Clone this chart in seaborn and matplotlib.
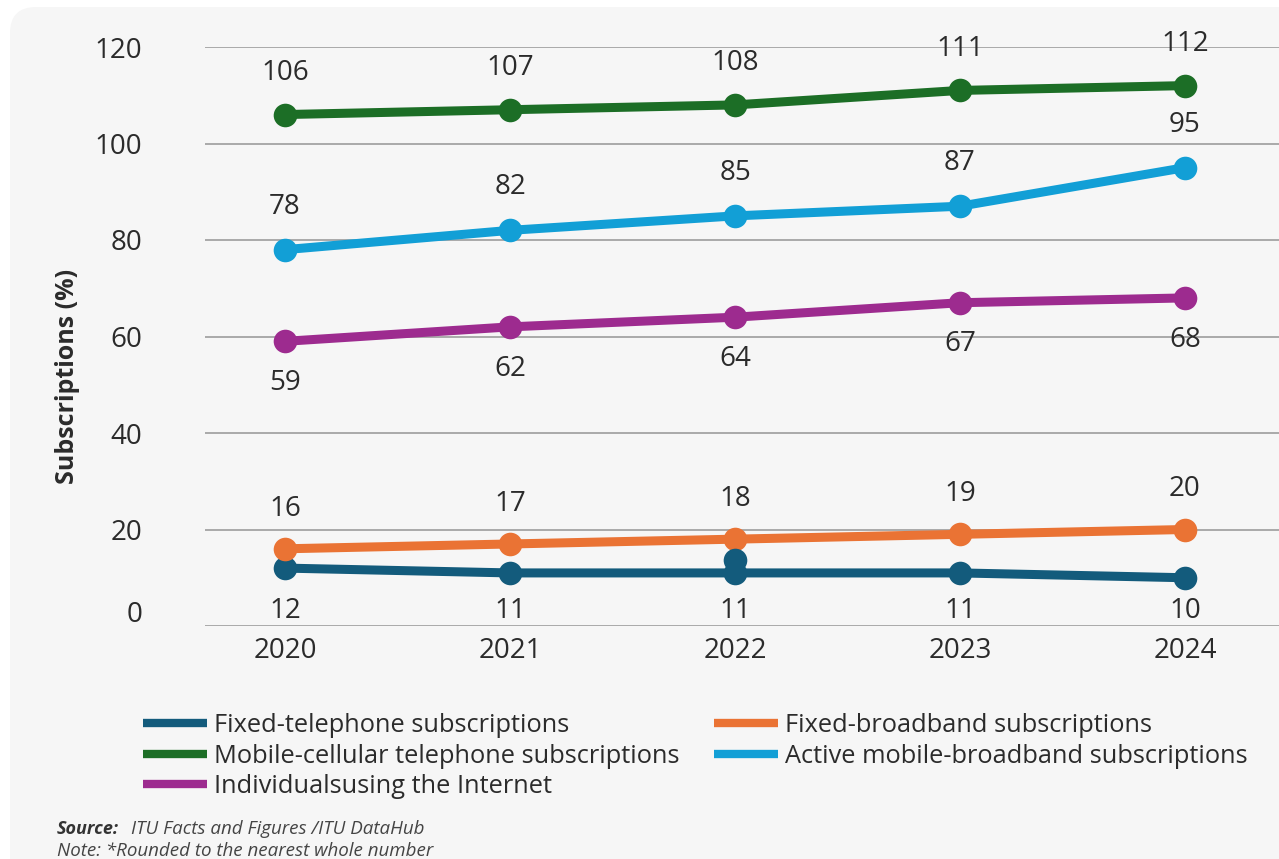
import matplotlib
matplotlib.use("Agg")
import matplotlib.pyplot as plt
import matplotlib.transforms as mtransforms
from matplotlib.lines import Line2D
from matplotlib.patches import FancyBboxPatch
import pandas as pd
import seaborn as sns

# ---- data -------------------------------------------------------------
years = [2020, 2021, 2022, 2023, 2024]
fixed_telephone = [12, 11, 11, 11, 10]
mobile_cellular = [106, 107, 108, 111, 112]
individuals_internet = [59, 62, 64, 67, 68]
fixed_broadband = [16, 17, 18, 19, 20]
active_mobile_broadband = [78, 82, 85, 87, 95]

# lone extra fixed-telephone point drawn at 2022
extra_years = [2022]
extra_fixed_telephone = [13.7]

series_names = [
    "Fixed-telephone subscriptions",
    "Mobile-cellular telephone subscriptions",
    "Individualsusing the Internet",
    "Fixed-broadband subscriptions",
    "Active mobile-broadband subscriptions",
]
series_values = [fixed_telephone, mobile_cellular, individuals_internet,
                 fixed_broadband, active_mobile_broadband]
series_colors = ["#135b7c", "#1c6e26", "#9d2b8f", "#ea7334", "#129fd6"]

y_ticks = [0, 20, 40, 60, 80, 100, 120]
y_label = "Subscriptions (%)"
source_label = "Source:"
source_text = "ITU Facts and Figures /ITU DataHub"
note_text = "Note: *Rounded to the nearest whole number"

# ---- styling ------------------------------------------------------------
sns.set_style("white")
plt.rcParams["font.family"] = ["Open Sans", "DejaVu Sans"]
TEXT = "#2b2b2b"
NUM_SIZE = 20

W, H = 1279, 859
fig = plt.figure(figsize=(W / 100, H / 100), dpi=100)
fig.patch.set_facecolor("white")

# light grey rounded panel behind everything
panel = FancyBboxPatch((10, -60), W + 60, H - 7 + 60,
                       boxstyle="round,pad=0,rounding_size=26",
                       transform=mtransforms.IdentityTransform(),
                       facecolor="#f6f6f6", edgecolor="none", zorder=-10)
fig.add_artist(panel)

ax = fig.add_axes([205 / W, (H - 626) / H, (W - 205) / W, (626 - 47) / H])
ax.set_facecolor("none")

rows = []
for name, vals in zip(series_names, series_values):
    for yr, v in zip(years, vals):
        rows.append({"year": yr, "value": v, "series": name})
df = pd.DataFrame(rows)

palette = dict(zip(series_names, series_colors))
draw_order = [series_names[i] for i in (0, 3, 2, 4, 1)]
for name in draw_order:
    sub = df[df["series"] == name]
    sns.lineplot(data=sub, x="year", y="value", color=palette[name],
                 marker="o", markersize=17, markeredgewidth=0,
                 linewidth=6.5, legend=False, ax=ax, sort=False)

ax.plot(extra_years, extra_fixed_telephone, "o", color=series_colors[0],
        markersize=17, markeredgewidth=0)

for ln in ax.lines:
    ln.set_clip_on(False)

# value labels
def label_series(vals, dy):
    for yr, v in zip(years, vals):
        ax.annotate(f"{v}", (yr, v), xytext=(0, dy), textcoords="offset points",
                    ha="center", va="center", fontsize=NUM_SIZE, color=TEXT)

label_series(mobile_cellular, 30)
label_series(active_mobile_broadband, 31)
label_series(individuals_internet, -30)
label_series(fixed_broadband, 29)
for yr, v in zip(years, fixed_telephone):
    ax.text(yr, 3.1, f"{v}", ha="center", va="center", fontsize=NUM_SIZE,
            color=TEXT)

# axes
ax.set_xlim(2019.644, 2024.418)
ax.set_ylim(0, 120)
ax.set_xticks(years)
ax.set_xticklabels([str(y) for y in years])
ax.set_yticks(y_ticks)
ax.set_yticklabels([str(t) for t in y_ticks])
ax.set_xlabel("")
ax.set_ylabel("")
for s in ax.spines.values():
    s.set_visible(False)
ax.yaxis.grid(True, color="#9d9d9d", linewidth=1.2)
ax.xaxis.grid(False)
ax.set_axisbelow(True)
ax.tick_params(axis="both", length=0, labelsize=NUM_SIZE, labelcolor=TEXT)
ax.tick_params(axis="y", pad=45)
ax.tick_params(axis="x", pad=8)
for lab in ax.get_yticklabels():
    lab.set_horizontalalignment("right")
zero_lab = ax.yaxis.get_major_ticks()[0].label1
zero_lab.set_transform(zero_lab.get_transform()
                       + mtransforms.ScaledTranslation(0, 15 / 100, fig.dpi_scale_trans))

fig.text(68 / W, 1 - 376 / H, y_label, rotation=90, ha="center", va="center",
         fontsize=18, fontweight="bold", color=TEXT)

# legend
handles = [Line2D([0], [0], color=c, lw=6, solid_capstyle="butt") for c in series_colors]
leg = fig.legend(handles, series_names, loc="upper left",
                 bbox_to_anchor=(143 / W, 1 - 713 / H), ncol=2, frameon=False,
                 fontsize=18.3, handlelength=2.5, handletextpad=0.3,
                 columnspacing=1.35, labelspacing=0.22, borderpad=0,
                 borderaxespad=0)
for t in leg.get_texts():
    t.set_color(TEXT)

# source and note
fig.text(57 / W, 1 - 829 / H, source_label, fontsize=13, style="italic",
         fontweight="bold", color="#333333", va="center")
fig.text(131 / W, 1 - 829 / H, source_text, fontsize=13.5, style="italic",
         color="#444444", va="center")
fig.text(57 / W, 1 - 851 / H, note_text, fontsize=13.5, style="italic",
         color="#444444", va="center")

fig.savefig("out.png", dpi=100, facecolor=fig.get_facecolor())
